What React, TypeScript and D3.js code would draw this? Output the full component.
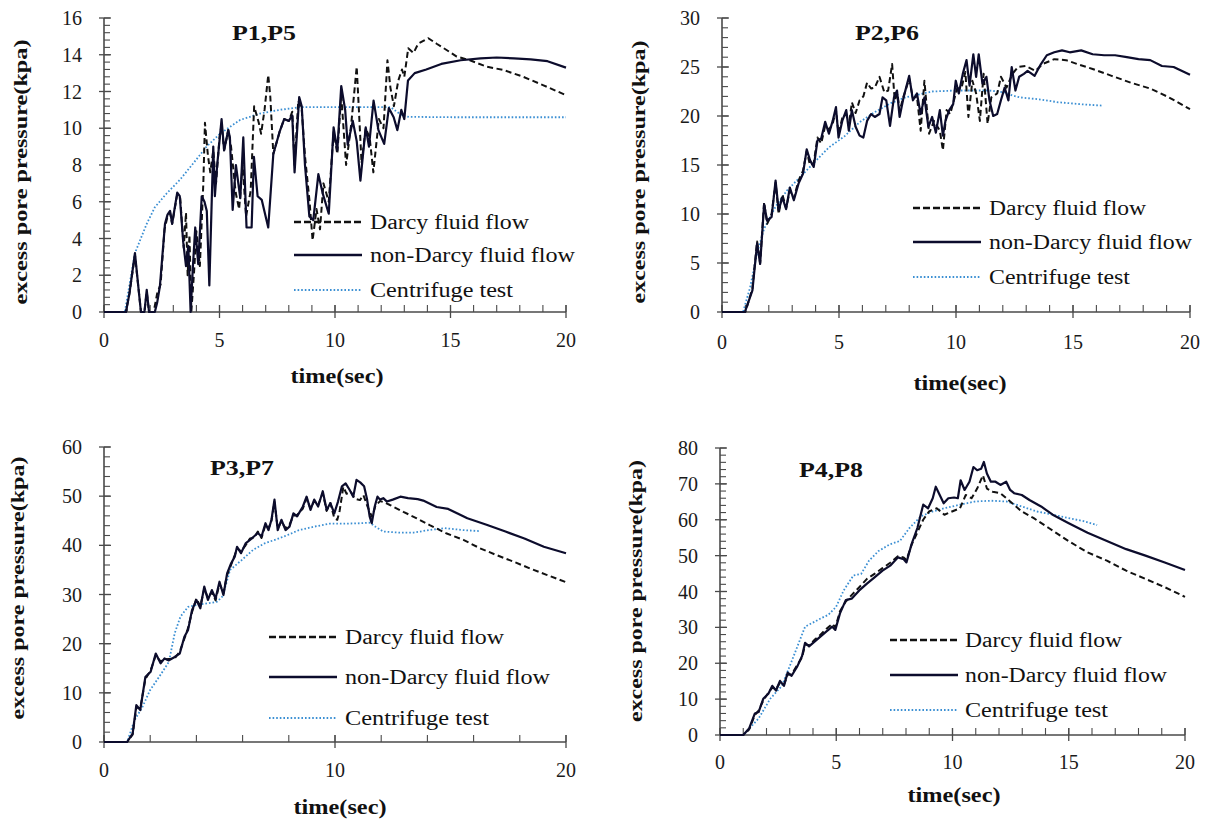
import React from 'react';
import * as d3 from 'd3';

type Pt = [number, number];

// ---------- Data ----------
const legendLabels = ['Darcy fluid flow', 'non-Darcy fluid flow', 'Centrifuge test'];
const panelTitles = ['P1,P5', 'P2,P6', 'P3,P7', 'P4,P8'];
const xTickLabels1 = [0, 5, 10, 15, 20];
const xTickLabels3 = [0, 10, 20];
const yTicks1 = [0, 2, 4, 6, 8, 10, 12, 14, 16];
const yTicks2 = [0, 5, 10, 15, 20, 25, 30];
const yTicks3 = [0, 10, 20, 30, 40, 50, 60];
const yTicks4 = [0, 10, 20, 30, 40, 50, 60, 70, 80];

const p1NonDarcy: Pt[] = [[0,0],[0.95,0],[1.1,1.0],[1.34,3.2],[1.5,1.2],[1.6,0],[1.75,0],[1.85,1.2],[1.95,0],[2.2,0],[2.3,0.5],[2.42,1.4],[2.64,4.8],[2.75,5.3],[2.86,5.5],[2.95,4.8],[3.17,6.5],[3.28,6.3],[3.43,3.8],[3.55,2.5],[3.65,3.6],[3.75,0],[3.85,2.5],[3.95,4.6],[4.08,2.6],[4.23,6.3],[4.35,6.0],[4.45,5.5],[4.56,1.45],[4.73,9.0],[4.8,6.3],[4.9,8.0],[5.09,10.5],[5.2,8.8],[5.38,9.9],[5.45,9.5],[5.57,5.55],[5.71,8.0],[5.9,6.2],[6.03,9.5],[6.17,4.6],[6.39,4.6],[6.49,8.45],[6.65,6.3],[6.83,6.1],[7.11,4.6],[7.33,8.6],[7.6,9.8],[7.8,10.5],[8.0,10.4],[8.15,10.7],[8.25,7.6],[8.45,11.7],[8.56,11.2],[8.7,8.0],[8.89,5.2],[9.06,5.0],[9.28,7.5],[9.48,6.4],[9.73,5.35],[9.94,10.05],[10.1,8.8],[10.27,12.3],[10.44,11],[10.55,9.1],[10.77,10.4],[10.94,9.3],[11.1,7.15],[11.33,10.05],[11.47,9],[11.67,11.5],[11.88,9.9],[12.13,9.15],[12.33,11.1],[12.54,10.6],[12.7,9.9],[12.87,11],[13.0,10.5],[13.16,12.6],[13.45,13.0],[13.95,13.2],[14.6,13.5],[15.44,13.7],[16.3,13.8],[17.0,13.85],[17.75,13.8],[18.47,13.75],[19.2,13.65],[20,13.3]];
const p1Darcy: Pt[] = [[0,0],[0.95,0],[1.1,1.0],[1.34,3.1],[1.5,1.2],[1.6,0],[1.75,0],[1.85,1.1],[1.95,0],[2.15,0],[2.3,1.0],[2.45,1.5],[2.62,4.5],[2.75,5.2],[2.86,5.4],[2.95,4.8],[3.17,6.4],[3.3,6.2],[3.45,3.5],[3.55,5.4],[3.62,2.0],[3.7,4.2],[3.78,0],[3.9,2.2],[4.0,4.4],[4.15,2.5],[4.3,7.0],[4.37,10.3],[4.5,8.5],[4.6,7.6],[4.73,8.8],[4.85,7.0],[5.0,9.5],[5.09,10.2],[5.2,8.8],[5.38,9.9],[5.5,9.0],[5.7,6.5],[5.85,5.6],[6.0,8.0],[6.15,5.2],[6.35,6.6],[6.5,11.2],[6.7,10.3],[6.8,9.7],[6.95,11.0],[7.11,12.9],[7.2,11.7],[7.33,8.6],[7.6,9.8],[7.8,10.5],[8.0,10.4],[8.15,10.9],[8.25,8.0],[8.41,11.5],[8.56,11.0],[8.7,8.5],[8.9,6.0],[9.03,3.9],[9.2,5.6],[9.35,4.5],[9.5,7.0],[9.73,6.0],[9.94,9.8],[10.1,8.6],[10.27,11.8],[10.48,8.0],[10.7,10.2],[10.94,13.35],[11.15,8.1],[11.33,10.0],[11.5,9.5],[11.66,7.6],[11.9,10.5],[12.1,10.0],[12.27,13.7],[12.4,12.2],[12.55,11.2],[12.74,12.6],[12.9,13.2],[13.0,12.8],[13.17,14.35],[13.4,14.1],[13.6,14.6],[14.04,14.9],[14.4,14.6],[14.83,14.26],[15.27,13.9],[15.84,13.7],[16.57,13.35],[17.29,13.17],[18.15,12.8],[19.0,12.35],[20,11.8]];
const p1Test: Pt[] = [[0,0],[0.9,0],[1.34,3.2],[1.56,3.9],[1.85,4.8],[2.2,5.7],[2.71,6.45],[3.29,7.2],[3.87,8.1],[4.44,9.0],[5.02,9.7],[5.89,10.45],[6.75,10.8],[7.6,11.0],[8.48,11.15],[10,11.15],[12.4,11.15],[12.9,10.7],[13.2,10.62],[15,10.6],[20,10.6]];

const p2NonDarcy: Pt[] = [[0,0],[0.98,0],[1.3,2.2],[1.5,7],[1.63,4.9],[1.8,11],[1.93,9.3],[2.12,9.7],[2.29,13.4],[2.42,10.4],[2.58,11.7],[2.74,10.5],[2.9,12.7],[3.07,11.4],[3.27,13.1],[3.46,14.1],[3.62,16.6],[3.76,15.5],[3.92,14.8],[4.08,17.5],[4.24,17.7],[4.41,19.4],[4.57,18.2],[4.73,19.5],[4.87,20.9],[4.98,17.8],[5.14,19.5],[5.31,20.6],[5.42,18.5],[5.55,20.6],[5.71,18.9],[5.88,18.0],[6.04,17.8],[6.2,19.5],[6.37,20.2],[6.53,19.9],[6.73,20.2],[6.86,21.9],[7.02,21.6],[7.18,19.0],[7.35,21.9],[7.48,22.6],[7.59,19.9],[7.76,21.9],[8.0,24.1],[8.16,21.6],[8.33,22.3],[8.49,20.2],[8.65,21.9],[8.82,18.9],[8.98,19.9],[9.14,18.3],[9.31,20.6],[9.44,18.0],[9.55,19.5],[9.71,20.6],[9.88,21.2],[9.99,23.6],[10.12,22.3],[10.29,24.3],[10.45,25.7],[10.58,23.1],[10.74,26.3],[10.86,24.0],[10.97,26.3],[11.13,23.3],[11.3,24.0],[11.43,21.6],[11.59,20.0],[11.76,20.2],[11.92,21.6],[12.08,22.9],[12.24,21.6],[12.38,25.0],[12.54,22.6],[12.7,24.0],[12.9,24.3],[13.06,24.6],[13.36,24.1],[13.63,25.3],[13.88,26.2],[14.2,26.5],[14.53,26.7],[14.86,26.5],[15.35,26.7],[15.84,26.3],[16.33,26.2],[16.8,26.2],[17.3,26.0],[17.8,25.8],[18.3,25.7],[18.8,25.1],[19.3,25.0],[20,24.2]];
const p2Darcy: Pt[] = [[0,0],[1.0,0],[1.3,2.4],[1.5,7.2],[1.63,5.0],[1.8,11.2],[1.93,9.0],[2.12,10.0],[2.29,13.2],[2.42,10.0],[2.58,12.0],[2.74,10.6],[2.9,12.4],[3.07,11.6],[3.27,13.4],[3.46,14.4],[3.62,16.4],[3.76,15.0],[3.92,15.2],[4.08,17.8],[4.24,17.2],[4.41,19.0],[4.57,18.6],[4.73,19.2],[4.87,20.6],[4.98,18.2],[5.14,19.8],[5.31,20.2],[5.42,19.0],[5.55,21.4],[5.71,20.3],[5.88,21.6],[6.04,22.0],[6.2,23.4],[6.37,22.8],[6.53,22.9],[6.73,24.0],[6.94,22.4],[7.1,22.6],[7.27,25.3],[7.38,21.6],[7.5,22.3],[7.59,20.5],[7.76,22.0],[8.0,23.8],[8.16,21.8],[8.33,22.0],[8.49,18.5],[8.65,23.6],[8.85,18.2],[9.06,19.5],[9.31,18.5],[9.44,16.5],[9.6,20.6],[9.75,20.2],[9.9,21.5],[10.05,22.8],[10.25,23.0],[10.4,24.5],[10.53,19.9],[10.7,23.6],[10.86,22.3],[11.02,19.5],[11.18,24.3],[11.35,19.2],[11.51,21.9],[11.76,22.3],[11.92,24.0],[12.16,22.9],[12.41,24.3],[12.65,25.0],[12.98,25.1],[13.4,24.6],[13.7,25.3],[14.2,25.8],[14.7,25.7],[15.18,25.3],[15.84,24.8],[16.65,24.1],[17.47,23.4],[18.3,22.8],[19.1,21.9],[20,20.7]];
const p2Test: Pt[] = [[0,0],[0.9,0],[1.2,2.5],[1.5,6],[1.8,8.5],[2.3,10.8],[2.78,12.4],[3.27,13.6],[3.92,15.2],[4.57,16.8],[5.22,17.9],[5.9,19.4],[6.53,20.4],[7.2,21.3],[7.84,21.9],[8.98,22.5],[10,22.6],[11.43,22.6],[12.1,22.4],[12.4,22.1],[12.73,21.9],[13.55,21.7],[14.37,21.4],[15.35,21.2],[16.3,21.05]];

const p3NonDarcy: Pt[] = [[0,0],[1.0,0],[1.24,1.7],[1.4,7.5],[1.57,6.5],[1.79,13.2],[2.02,14.3],[2.24,18.0],[2.45,16.0],[2.62,17.0],[2.81,16.6],[3.06,17.3],[3.28,18.0],[3.48,21.4],[3.64,22.8],[3.81,26.8],[4.0,28.9],[4.17,27.2],[4.34,31.6],[4.5,28.9],[4.67,30.9],[4.83,29.2],[5.0,32.6],[5.17,29.9],[5.33,34.3],[5.5,36.3],[5.66,37.7],[5.76,39.7],[5.93,38.4],[6.13,40.4],[6.32,41.1],[6.49,41.8],[6.66,42.5],[6.82,41.8],[6.99,44.5],[7.12,43.1],[7.25,45.2],[7.38,49.3],[7.52,43.1],[7.68,45.2],[7.86,43.1],[8.03,43.8],[8.2,46.5],[8.36,45.9],[8.61,47.9],[8.77,49.9],[8.94,47.2],[9.1,49.3],[9.27,47.9],[9.47,51.0],[9.64,47.2],[9.8,48.6],[9.97,46.5],[10.13,48.9],[10.3,52.0],[10.46,52.6],[10.63,51.3],[10.79,49.9],[10.93,53.3],[11.09,52.8],[11.26,52.0],[11.39,49.3],[11.5,45.9],[11.59,44.5],[11.72,47.9],[11.84,49.9],[11.95,49.3],[12.09,49.6],[12.25,48.9],[12.5,49.3],[12.83,49.9],[13.16,49.6],[13.58,49.4],[13.82,49.1],[14.4,47.8],[14.9,47.4],[15.73,45.5],[16.56,44.2],[17.38,42.8],[18.2,41.4],[19.04,39.7],[20,38.4]];
const p3Darcy: Pt[] = [[0,0],[1.0,0],[1.24,1.5],[1.4,7.0],[1.57,6.8],[1.79,12.8],[2.02,14.6],[2.24,17.6],[2.45,16.4],[2.62,16.8],[2.81,16.9],[3.06,17.0],[3.28,18.4],[3.48,21.0],[3.64,23.2],[3.81,26.4],[4.0,29.2],[4.17,27.6],[4.34,31.2],[4.5,29.3],[4.67,30.5],[4.83,28.8],[5.0,32.2],[5.17,30.3],[5.33,34.0],[5.5,36.0],[5.66,38.0],[5.76,39.4],[5.93,38.8],[6.13,40.0],[6.32,41.4],[6.49,41.5],[6.66,42.8],[6.82,41.5],[6.99,44.2],[7.12,43.4],[7.25,45.0],[7.38,48.8],[7.52,43.5],[7.68,44.8],[7.86,43.5],[8.03,44.2],[8.2,46.0],[8.36,46.2],[8.61,47.5],[8.77,49.5],[8.94,47.5],[9.1,49.0],[9.27,48.2],[9.47,50.6],[9.64,47.0],[9.8,48.6],[9.97,45.5],[10.1,45.2],[10.2,47.0],[10.36,51.9],[10.5,50.5],[10.7,50.8],[10.85,49.5],[11.08,49.2],[11.23,50.2],[11.4,48.0],[11.6,45.8],[11.75,48.0],[11.95,49.0],[12.1,48.8],[12.38,48.2],[12.96,46.8],[13.54,45.5],[14.1,44.1],[14.84,42.4],[15.56,41.1],[16.28,39.4],[17.0,38.0],[17.72,36.7],[18.44,35.3],[19.16,34.0],[20,32.5]];
const p3Test: Pt[] = [[0,0],[1.0,0],[1.32,4.4],[1.66,7.1],[1.99,10.5],[2.48,13.9],[2.81,16.3],[3.06,22.1],[3.31,25.5],[3.64,27.5],[4.06,27.9],[4.47,28.2],[4.88,28.5],[5.13,29.6],[5.46,35.0],[5.96,37.0],[6.46,39.1],[6.95,40.4],[7.45,41.2],[7.95,42.1],[8.44,43.1],[9.1,43.8],[9.77,44.4],[10.43,44.4],[11.09,44.5],[11.5,44.6],[11.75,43.8],[12.09,42.8],[12.75,42.6],[13.41,42.6],[14.07,43.1],[14.74,43.5],[15.56,43.1],[16.23,42.9]];

const p4NonDarcy: Pt[] = [[0,0],[1.0,0],[1.25,1.8],[1.5,6.0],[1.66,6.4],[1.86,10.1],[2.08,11.5],[2.25,13.7],[2.41,12.4],[2.58,15.1],[2.75,13.7],[2.91,17.4],[3.08,16.5],[3.33,19.2],[3.53,22.0],[3.66,25.7],[3.83,24.7],[4.08,26.1],[4.33,27.5],[4.58,28.9],[4.83,30.2],[4.96,29.3],[5.16,33.9],[5.41,37.6],[5.66,38.0],[5.99,40.3],[6.32,42.2],[6.66,44.0],[6.99,45.8],[7.32,47.2],[7.65,49.5],[7.9,49.0],[8.02,48.1],[8.24,53.2],[8.49,57.7],[8.74,64.2],[8.95,63.2],[9.15,66.0],[9.28,69.2],[9.45,66.9],[9.62,64.6],[9.82,66.0],[10.07,66.2],[10.23,66.0],[10.35,71.0],[10.52,68.3],[10.73,70.6],[10.9,74.7],[11.06,73.8],[11.23,74.2],[11.35,76.1],[11.48,72.9],[11.65,70.6],[11.85,70.6],[12.06,69.7],[12.31,70.6],[12.48,68.3],[12.65,67.4],[12.98,66.9],[13.31,65.5],[13.81,63.7],[14.31,61.4],[14.98,59.1],[15.81,56.4],[16.64,54.1],[17.47,51.8],[18.3,50.0],[19.13,48.1],[20,46.0]];
const p4Darcy: Pt[] = [[0,0],[1.0,0],[1.25,1.5],[1.5,5.6],[1.66,6.8],[1.86,9.6],[2.08,11.8],[2.25,13.2],[2.41,12.8],[2.58,14.6],[2.75,14.0],[2.91,16.8],[3.08,16.9],[3.33,19.6],[3.53,21.6],[3.66,25.2],[3.83,25.0],[4.08,26.6],[4.33,28.0],[4.58,29.6],[4.83,31.0],[4.96,30.0],[5.16,34.5],[5.41,37.2],[5.66,39.0],[5.99,41.2],[6.32,43.5],[6.66,45.0],[6.99,46.5],[7.32,48.0],[7.65,49.8],[7.9,49.5],[8.02,48.8],[8.24,53.0],[8.49,56.5],[8.74,60.0],[8.99,62.3],[9.32,63.2],[9.65,61.4],[9.98,62.3],[10.32,63.2],[10.57,66.9],[10.82,66.0],[11.06,68.7],[11.31,72.4],[11.48,68.7],[11.73,67.8],[12.06,67.4],[12.48,65.1],[12.98,62.3],[13.48,60.5],[14.14,57.7],[14.98,54.1],[15.81,50.9],[16.64,48.6],[17.47,45.8],[18.3,43.5],[19.13,41.2],[20,38.5]];
const p4Test: Pt[] = [[0,0],[1.0,0],[1.66,4.6],[2.16,10.1],[2.66,13.7],[3.0,19.2],[3.33,24.7],[3.66,30.2],[3.99,31.3],[4.33,32.5],[4.66,33.5],[4.99,35.7],[5.32,40.3],[5.74,44.5],[6.07,44.9],[6.41,48.6],[6.82,51.3],[7.32,53.2],[7.74,54.1],[8.15,57.7],[8.65,61.0],[9.15,62.3],[9.65,63.2],[10.32,64.2],[10.98,65.1],[11.65,65.3],[12.31,65.1],[12.98,63.7],[13.64,62.3],[14.31,61.4],[14.98,60.5],[15.64,59.6],[16.22,58.5]];

// ---------- Layout (positions & styles) ----------
const layouts = [
  { x0: 104, x1: 566, yTop: 18, yBot: 312, yMax: 16, yTicks: yTicks1, yMinorStep: 0.4, xMinorStep: 1, xLabels: xTickLabels1,
    title: { x: 264, y: 40 }, yLabel: { x: 21, y: 172, len: 265 }, xLabelBase: 347, xTitle: { x: 337, y: 383 },
    legend: { l0: 294, l1: 362, tx: 370, rows: [222, 255, 290], lens: [159, 205, 143] } },
  { x0: 722, x1: 1190, yTop: 18, yBot: 312, yMax: 30, yTicks: yTicks2, yMinorStep: 1, xMinorStep: 1, xLabels: xTickLabels1,
    title: { x: 887, y: 40 }, yLabel: { x: 639, y: 172, len: 263 }, xLabelBase: 349, xTitle: { x: 960, y: 390 },
    legend: { l0: 913, l1: 981, tx: 989, rows: [208, 242, 277], lens: [157, 203, 141] } },
  { x0: 104, x1: 566, yTop: 447, yBot: 742, yMax: 60, yTicks: yTicks3, yMinorStep: 2, xMinorStep: 2, xLabels: xTickLabels3,
    title: { x: 242, y: 475 }, yLabel: { x: 18, y: 588, len: 263 }, xLabelBase: 777, xTitle: { x: 340, y: 814 },
    legend: { l0: 269, l1: 337, tx: 345, rows: [637, 677, 718], lens: [159, 205, 144] } },
  { x0: 720, x1: 1185, yTop: 448, yBot: 735, yMax: 80, yTicks: yTicks4, yMinorStep: 2, xMinorStep: 1, xLabels: xTickLabels1,
    title: { x: 831, y: 477 }, yLabel: { x: 636, y: 591, len: 262 }, xLabelBase: 769, xTitle: { x: 954, y: 802 },
    legend: { l0: 890, l1: 958, tx: 965, rows: [640, 675, 710], lens: [157, 202, 143] } },
];

const seriesByPanel: Pt[][][] = [
  [p1Darcy, p1NonDarcy, p1Test],
  [p2Darcy, p2NonDarcy, p2Test],
  [p3Darcy, p3NonDarcy, p3Test],
  [p4Darcy, p4NonDarcy, p4Test],
];

const FONT = '"Liberation Serif", "Times New Roman", serif';
const AXIS = '#4a4a4a';
const styles = [
  { stroke: '#111111', width: 2, dash: '6 3.5', legendDash: '7 3' },
  { stroke: '#0c0c2c', width: 2.2, dash: undefined as string | undefined, legendDash: undefined as string | undefined },
  { stroke: '#3b8fd3', width: 1.8, dash: '1.6 2', legendDash: '1.6 2' },
];

function Panel({ idx }: { idx: number }) {
  const L = layouts[idx];
  const x = d3.scaleLinear().domain([0, 20]).range([L.x0, L.x1]);
  const y = d3.scaleLinear().domain([0, L.yMax]).range([L.yBot, L.yTop]);
  const line = d3.line<Pt>().x(d => x(d[0])).y(d => y(d[1])).curve(d3.curveLinear);
  const xMinor = d3.range(0, 20 + 1e-9, L.xMinorStep);
  const yMinor = d3.range(0, L.yMax + 1e-9, L.yMinorStep);
  const series = seriesByPanel[idx];
  const order = [2, 0, 1];
  return (
    <g>
      {/* y axis */}
      <line x1={L.x0} x2={L.x0} y1={L.yTop} y2={L.yBot} stroke={AXIS} strokeWidth={1.6} />
      {yMinor.map((v, i) => (
        <line key={'ym' + i} x1={L.x0} x2={L.x0 + 6} y1={y(v)} y2={y(v)} stroke={AXIS} strokeWidth={1.1} />
      ))}
      {L.yTicks.map(v => (
        <g key={'yt' + v}>
          <line x1={L.x0 - 5} x2={L.x0 + 7} y1={y(v)} y2={y(v)} stroke={AXIS} strokeWidth={1.3} />
          <text x={L.x0 - 22} y={y(v) + 7} textAnchor="end" fontFamily={FONT} fontSize={20} fill="#1a1a1a">{v}</text>
        </g>
      ))}
      {/* x axis */}
      <line x1={L.x0} x2={L.x1} y1={L.yBot} y2={L.yBot} stroke={AXIS} strokeWidth={1.6} />
      {xMinor.map((v, i) => (
        <line key={'xm' + i} x1={x(v)} x2={x(v)} y1={L.yBot} y2={L.yBot - 7} stroke={AXIS} strokeWidth={1.1} />
      ))}
      {L.xLabels.map(v => (
        <g key={'xt' + v}>
          <line x1={x(v)} x2={x(v)} y1={L.yBot - 7} y2={L.yBot + 6} stroke={AXIS} strokeWidth={1.3} />
          <text x={x(v)} y={L.xLabelBase} textAnchor="middle" fontFamily={FONT} fontSize={20} fill="#1a1a1a">{v}</text>
        </g>
      ))}
      {/* series */}
      {order.map(si => (
        <path key={'s' + si} d={line(series[si]) || ''} fill="none" stroke={styles[si].stroke}
          strokeWidth={styles[si].width} strokeDasharray={styles[si].dash} strokeLinejoin="round" />
      ))}
      {/* title */}
      <text x={L.title.x} y={L.title.y} textAnchor="middle" fontFamily={FONT} fontSize={22} fontWeight="bold"
        textLength={64} lengthAdjust="spacingAndGlyphs" fill="#111">{panelTitles[idx]}</text>
      {/* axis titles */}
      <text transform={`translate(${L.yLabel.x + 6},${L.yLabel.y}) rotate(-90)`} textAnchor="middle" fontFamily={FONT}
        fontSize={18} fontWeight="bold" textLength={L.yLabel.len} lengthAdjust="spacingAndGlyphs" fill="#111">
        excess pore pressure(kpa)
      </text>
      <text x={L.xTitle.x} y={L.xTitle.y} textAnchor="middle" fontFamily={FONT} fontSize={20} fontWeight="bold"
        textLength={93} lengthAdjust="spacingAndGlyphs" fill="#111">time(sec)</text>
      {/* legend */}
      {legendLabels.map((lab, i) => (
        <g key={'lg' + i}>
          <line x1={L.legend.l0} x2={L.legend.l1} y1={L.legend.rows[i]} y2={L.legend.rows[i]} stroke={styles[i].stroke}
            strokeWidth={styles[i].width + 0.3} strokeDasharray={styles[i].legendDash} />
          <text x={L.legend.tx} y={L.legend.rows[i] + 7} fontFamily={FONT} fontSize={20} fill="#111"
            textLength={L.legend.lens[i]} lengthAdjust="spacingAndGlyphs">{lab}</text>
        </g>
      ))}
    </g>
  );
}

export default function App() {
  return (
    <svg width={1210} height={820} viewBox="0 0 1210 820"
      style={{ position: 'absolute', left: 0, top: 0, background: '#fff' }}>
      <rect x={0} y={0} width={1210} height={820} fill="#fff" />
      {[0, 1, 2, 3].map(i => <Panel key={i} idx={i} />)}
    </svg>
  );
}
